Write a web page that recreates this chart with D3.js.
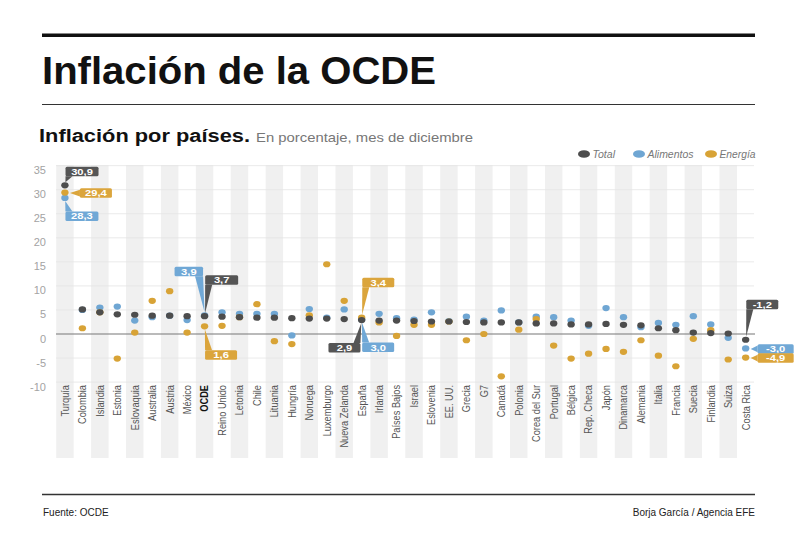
<!DOCTYPE html>
<html>
<head>
<meta charset="utf-8">
<script src="https://cdn.jsdelivr.net/npm/d3@7"></script>
<style>
  body { margin: 0; background: #fff; }
  svg { display: block; font-family: 'Liberation Sans', Arial, Helvetica, sans-serif; }
</style>
</head>
<body>
<div id="chart"></div>
<script>
// Inflación por países, diciembre (%)
const countries = ['Turquía', 'Colombia', 'Islandia', 'Estonia', 'Eslovaquia', 'Australia', 'Austria', 'México',
  'OCDE', 'Reino Unido', 'Letonia', 'Chile', 'Lituania', 'Hungría', 'Noruega', 'Luxemburgo', 'Nueva Zelanda',
  'España', 'Irlanda', 'Países Bajos', 'Israel', 'Eslovenia', 'EE. UU.', 'Grecia', 'G7', 'Canadá', 'Polonia',
  'Corea del Sur', 'Portugal', 'Bélgica', 'Rep. Checa', 'Japón', 'Dinamarca', 'Alemania', 'Italia', 'Francia',
  'Suecia', 'Finlandia', 'Suiza', 'Costa Rica'];

const total = [30.9, 5.1, 4.5, 4.1, 4.0, 3.8, 3.8, 3.7, 3.7, 3.6, 3.5, 3.4, 3.4, 3.3, 3.2, 3.2, 3.1,
  2.9, 2.8, 2.8, 2.7, 2.6, 2.6, 2.5, 2.4, 2.4, 2.4, 2.2, 2.2, 2.0, 2.0, 2.1, 1.9, 1.8, 1.2, 0.8,
  0.3, 0.2, 0.1, -1.2];

const alimentos = [28.3, 5.0, 5.5, 5.7, 2.8, 3.5, 3.8, 2.9, 3.9, 4.5, 4.2, 4.2, 4.2, -0.3, 5.2, 3.4, 5.1,
  3.0, 4.2, 3.3, 3.0, 4.5, 2.7, 3.6, 2.8, 4.9, 2.4, 3.6, 3.5, 2.8, 1.7, 5.4, 3.5, 1.4, 2.3, 1.9,
  3.7, 2.0, -0.8, -3.0];

const energia = [29.4, 1.2, 4.5, -5.1, 0.3, 6.9, 8.9, 0.3, 1.6, 1.7, 3.5, 6.2, -1.5, -2.1, 3.9, 14.5, 6.9,
  3.4, 2.4, -0.4, 1.9, 1.9, 2.6, -1.3, 0.0, -8.8, 0.9, 3.1, -2.4, -5.1, -4.1, -3.1, -3.7, -1.3, -4.5, -6.7,
  -1.0, 0.8, -5.3, -4.9];

const yTicks = [-10, -5, 0, 5, 10, 15, 20, 25, 30, 35];

const seriesNames = ['Total', 'Alimentos', 'Energía'];
const seriesColors = { total: '#4d4d4d', alimentos: '#6fa6d3', energia: '#d8a336' };
const boxColors = { total: '#555555', alimentos: '#70a8d6', energia: '#dba53c' };

// etiquetas destacadas
const callouts = [
  { country: 'Turquía', serie: 'total', dir: 'up-right', gap: 9, w: 33 },
  { country: 'Turquía', serie: 'energia', dir: 'right', gap: 15, w: 32 },
  { country: 'Turquía', serie: 'alimentos', dir: 'down-right', gap: 13.5, w: 33 },
  { country: 'OCDE', serie: 'alimentos', dir: 'up-left', gap: 39, w: 28.5 },
  { country: 'OCDE', serie: 'total', dir: 'up-right', gap: 31.5, w: 33 },
  { country: 'OCDE', serie: 'energia', dir: 'down-right', gap: 24, w: 32 },
  { country: 'España', serie: 'energia', dir: 'up-right', gap: 30.5, w: 32 },
  { country: 'España', serie: 'total', dir: 'down-left', gap: 23, w: 32 },
  { country: 'España', serie: 'alimentos', dir: 'down-right', gap: 23, w: 32 },
  { country: 'Costa Rica', serie: 'total', dir: 'up-right', gap: 30.5, w: 32 },
  { country: 'Costa Rica', serie: 'alimentos', dir: 'right', gap: 12, w: 36 },
  { country: 'Costa Rica', serie: 'energia', dir: 'right', gap: 12, w: 36 }
];

const W = 800, H = 533;
const svg = d3.select('#chart').append('svg').attr('width', W).attr('height', H);

const fmt = v => (v < 0 ? '-' : '') + Math.abs(v).toFixed(1).replace('.', ',');

// Cabecera
svg.append('rect').attr('x', 42).attr('y', 33.5).attr('width', 713).attr('height', 3.5).attr('fill', '#111');
svg.append('text').attr('x', 42).attr('y', 84)
  .attr('font-size', 38).attr('font-weight', 'bold').attr('fill', '#111')
  .attr('textLength', 394).attr('lengthAdjust', 'spacingAndGlyphs')
  .text('Inflación de la OCDE');
svg.append('line').attr('x1', 42).attr('x2', 755).attr('y1', 104.5).attr('y2', 104.5)
  .attr('stroke', '#333').attr('stroke-width', 1);

svg.append('text').attr('x', 39).attr('y', 141.5)
  .attr('font-size', 18).attr('font-weight', 'bold').attr('fill', '#111')
  .attr('textLength', 211).attr('lengthAdjust', 'spacingAndGlyphs')
  .text('Inflación por países.');
svg.append('text').attr('x', 256).attr('y', 141.5)
  .attr('font-size', 13).attr('fill', '#777')
  .attr('textLength', 217).attr('lengthAdjust', 'spacingAndGlyphs')
  .text('En porcentaje, mes de diciembre');

// Leyenda
const legendX = [584, 639, 711];
const legendLen = [22.5, 46, 36];
const legendKeys = ['total', 'alimentos', 'energia'];
const legend = svg.append('g');
seriesNames.forEach((name, i) => {
  legend.append('ellipse').attr('cx', legendX[i]).attr('cy', 154).attr('rx', 6).attr('ry', 3.8)
    .attr('fill', seriesColors[legendKeys[i]]);
  legend.append('text').attr('x', legendX[i] + 8.5).attr('y', 157.5)
    .attr('font-size', 10).attr('font-style', 'italic').attr('fill', '#777')
    .attr('textLength', legendLen[i]).attr('lengthAdjust', 'spacingAndGlyphs')
    .text(name);
});

// Escalas
const x = d3.scaleBand().domain(countries).range([56.2, 754.4]).padding(0);
const y = d3.scaleLinear().domain([-10, 35]).range([382.1, 165.65]);
const cx = c => x(c) + x.bandwidth() / 2;

// Bandas alternas
svg.append('g').selectAll('rect')
  .data(countries.filter((c, i) => i % 2 === 0))
  .enter().append('rect')
  .attr('x', d => x(d)).attr('width', x.bandwidth())
  .attr('y', 165).attr('height', 293)
  .attr('fill', '#f0f0f0');

// Rejilla
svg.append('g').selectAll('line')
  .data(yTicks.filter(t => t !== 0))
  .enter().append('line')
  .attr('x1', 56).attr('x2', 754)
  .attr('y1', d => y(d)).attr('y2', d => y(d))
  .attr('stroke', '#e4e4e4').attr('stroke-width', 0.8);

svg.append('line').attr('x1', 56).attr('x2', 755).attr('y1', y(0)).attr('y2', y(0))
  .attr('stroke', '#777').attr('stroke-width', 1.1);

// Eje Y
svg.append('g').selectAll('text')
  .data(yTicks).enter().append('text')
  .attr('x', 46).attr('y', d => y(d) + 8.5)
  .attr('text-anchor', 'end').attr('font-size', 11).attr('fill', '#a3a3a3')
  .text(d => String(d));

// Eje X (etiquetas giradas)
svg.append('g').selectAll('text')
  .data(countries).enter().append('text')
  .attr('transform', d => `translate(${cx(d)},385) rotate(-90) scale(0.84,1)`)
  .attr('dy', '0.35em')
  .attr('text-anchor', 'end')
  .attr('font-size', 11)
  .attr('font-weight', d => d === 'OCDE' ? 'bold' : 'normal')
  .attr('fill', d => d === 'OCDE' ? '#111' : '#555')
  .text(d => d);

// Puntos
const series = { alimentos, energia, total };
['alimentos', 'energia', 'total'].forEach(key => {
  svg.append('g').selectAll('ellipse')
    .data(countries.map((c, i) => ({ c, v: series[key][i] })))
    .enter().append('ellipse')
    .attr('cx', d => cx(d.c)).attr('cy', d => y(d.v))
    .attr('rx', 3.7).attr('ry', 3.1)
    .attr('fill', seriesColors[key]);
});

// Etiquetas con flecha
const bh = 9.5;
const cg = svg.append('g');
callouts.forEach(cl => {
  const i = countries.indexOf(cl.country);
  const v = series[cl.serie][i];
  const px = cx(cl.country), py = y(v);
  let bx, by, tail;
  if (cl.dir === 'up-right') {
    bx = px + 0.6; by = py - cl.gap - bh;
    tail = [[bx, by + bh], [px + 0.5, py - 3], [bx + 7, by + bh]];
  } else if (cl.dir === 'up-left') {
    bx = px - 1.5 - cl.w; by = py - cl.gap - bh;
    tail = [[bx + cl.w - 8, by + bh], [px, py - 3], [bx + cl.w, by + bh]];
  } else if (cl.dir === 'down-right') {
    bx = px + 0.5; by = py + cl.gap;
    tail = [[bx, by], [px + 0.3, py + 3], [bx + 7, by]];
  } else if (cl.dir === 'down-left') {
    bx = px - 1.2 - cl.w; by = py + cl.gap;
    tail = [[bx + cl.w - 7, by], [px - 0.3, py + 3], [bx + cl.w, by]];
  } else {
    bx = px + cl.gap; by = py + 0.5 - bh / 2;
    tail = [[bx, by + bh / 2 - 3.4], [px + 5, by + bh / 2], [bx, by + bh / 2 + 3.4]];
  }
  cg.append('path').attr('d', 'M' + tail.join('L') + 'Z').attr('fill', boxColors[cl.serie]);
  cg.append('rect').attr('x', bx).attr('y', by).attr('width', cl.w).attr('height', bh)
    .attr('rx', 1.5).attr('fill', boxColors[cl.serie]);
  cg.append('text')
    .attr('transform', `translate(${bx + cl.w / 2},${by + bh / 2 + 3.2}) scale(1.3,1)`)
    .attr('text-anchor', 'middle').attr('font-size', 8.6).attr('font-weight', 'bold')
    .attr('fill', '#fff')
    .text(fmt(v));
});

// Pie
svg.append('line').attr('x1', 42).attr('x2', 755).attr('y1', 494.5).attr('y2', 494.5)
  .attr('stroke', '#333').attr('stroke-width', 1.3);
svg.append('text').attr('x', 43).attr('y', 516).attr('font-size', 10).attr('fill', '#222')
  .text('Fuente: OCDE');
svg.append('text').attr('x', 755).attr('y', 516).attr('font-size', 10).attr('fill', '#222')
  .attr('text-anchor', 'end')
  .text('Borja García / Agencia EFE');
</script>
</body>
</html>
